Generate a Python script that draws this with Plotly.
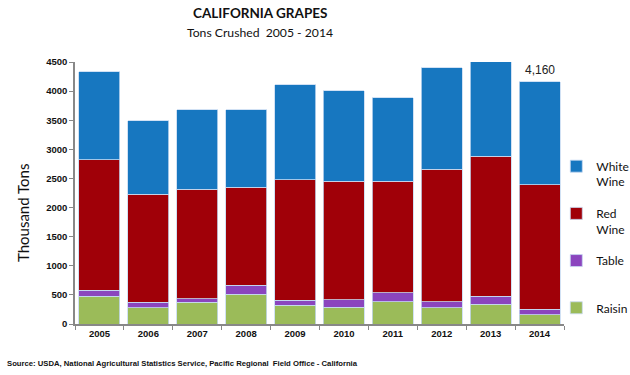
import plotly.graph_objects as go

years = ["2005", "2006", "2007", "2008", "2009", "2010", "2011", "2012", "2013", "2014"]
raisin = [480, 280, 377, 509, 321, 292, 383, 280, 343, 160]
table = [103, 92, 57, 160, 91, 125, 154, 103, 132, 97]
red_wine = [2237, 1859, 1877, 1676, 2065, 2037, 1917, 2277, 2408, 2134]
white_wine = [1516, 1264, 1373, 1339, 1630, 1556, 1436, 1745, 1630, 1769]
series_names = ["Raisin", "Table<br> ", "Red<br>Wine", "White<br>Wine"]
colors = ["#9BBB59", "#8B45BE", "#A00008", "#1777C0"]

fig = go.Figure()
for i, (name, vals, col) in enumerate(zip(series_names, [raisin, table, red_wine, white_wine], colors)):
    fig.add_trace(go.Bar(
        x=years, y=vals, name=name, legendgroup=str(i), legendrank=10 - i,
        marker=dict(color=col, line=dict(color="#c6d9f1", width=0.8)),
    ))

totals = [a + b + c + d for a, b, c, d in zip(raisin, table, red_wine, white_wine)]

fig.add_annotation(x=len(years) - 1, y=totals[-1], text=f"{totals[-1]:,}", showarrow=False,
                   yanchor="bottom", yshift=3,
                   font=dict(family="Liberation Sans", size=12, color="#222"))
fig.add_annotation(xref="paper", yref="paper", x=-0.106, xanchor="center", y=0.424, yanchor="middle",
                   text="Thousand Tons", textangle=-90, showarrow=False,
                   font=dict(family="Lato", size=15, color="#111"))
fig.add_annotation(xref="paper", yref="paper", x=0.378, y=1.0, yanchor="middle", yshift=49,
                   text="<b>CALIFORNIA GRAPES</b>",
                   showarrow=False, font=dict(family="Lato", size=13.5, color="#111"))
fig.add_annotation(xref="paper", yref="paper", x=0.378, y=1.0, yanchor="middle", yshift=30,
                   text="Tons Crushed  2005 - 2014",
                   showarrow=False, font=dict(family="Lato", size=12.2, color="#111"))
fig.add_annotation(xref="paper", yref="paper", x=-0.143, xanchor="left", y=0.0, yanchor="middle", yshift=-39,
                   text="<b>Source: USDA, National Agricultural Statistics Service, Pacific Regional  Field Office - California</b>",
                   showarrow=False, font=dict(family="Liberation Sans", size=7.7, color="#111"))

fig.update_layout(
    width=630, height=375,
    margin=dict(l=75, r=66, t=62, b=51, autoexpand=False),
    barmode="stack", bargap=0.16,
    plot_bgcolor="white", paper_bgcolor="white",
    showlegend=True,
    legend=dict(xref="container", yref="container", x=0.883, xanchor="left", y=0.595, yanchor="top",
                traceorder="grouped", tracegroupgap=13, valign="top",
                bgcolor="rgba(0,0,0,0)",
                font=dict(family="Lato", size=12, color="#111")),
    xaxis=dict(type="category", showline=True, linecolor="#888", linewidth=1.5, ticks="outside",
               tickson="boundaries", tickcolor="#888", ticklen=4,
               tickfont=dict(family="Liberation Sans", size=9.5, color="#111", weight="bold")),
    yaxis=dict(range=[0, 4500], dtick=500, showline=True, linecolor="#888", linewidth=1.5,
               ticks="outside", tickcolor="#888", ticklen=4, showgrid=False,
               tickfont=dict(family="Liberation Sans", size=9.5, color="#111", weight="bold")),
)

fig.write_html("out.html", config={"displayModeBar": False},
               post_script="document.body.style.margin='0';")
